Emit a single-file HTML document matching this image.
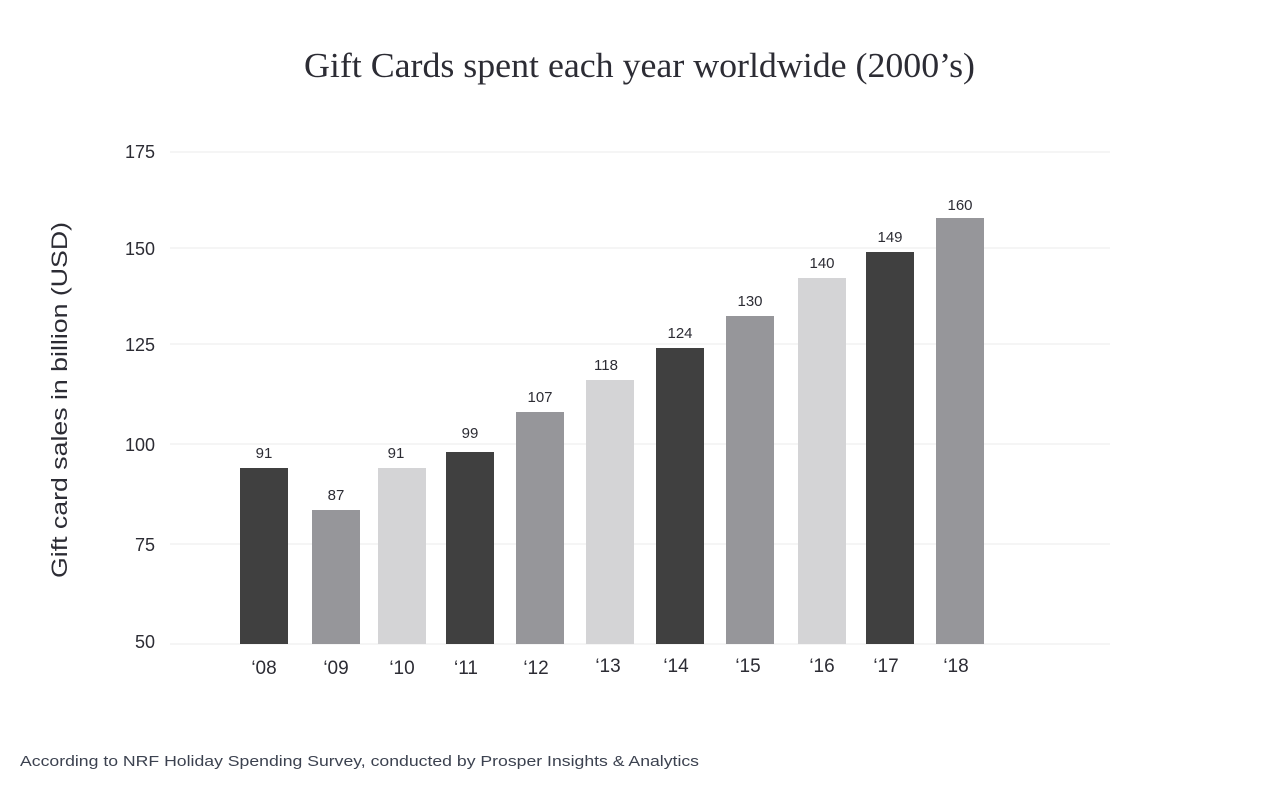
<!DOCTYPE html>
<html><head><meta charset="utf-8"><style>
body{margin:0;background:#fff;width:1280px;height:800px;overflow:hidden}
</style></head><body>
<svg width="1280" height="800" xmlns="http://www.w3.org/2000/svg" font-family="Liberation Sans, sans-serif">
<text x="304" y="77" textLength="671" lengthAdjust="spacingAndGlyphs" font-family="Liberation Serif, serif" font-size="35" fill="#2c2c34">Gift Cards spent each year worldwide (2000’s)</text>
<g stroke="#f5f5f5" stroke-width="2">
<line x1="170" x2="1110" y1="152" y2="152"/><line x1="170" x2="1110" y1="248" y2="248"/>
<line x1="170" x2="1110" y1="344" y2="344"/><line x1="170" x2="1110" y1="444" y2="444"/>
<line x1="170" x2="1110" y1="544" y2="544"/><line x1="170" x2="1110" y1="644" y2="644"/>
</g>
<g font-size="18" fill="#2c2c34" text-anchor="end">
<text x="155" y="158">175</text><text x="155" y="255">150</text><text x="155" y="351">125</text>
<text x="155" y="451">100</text><text x="155" y="551">75</text><text x="155" y="648">50</text>
</g>
<text transform="translate(67,578) rotate(-90)" textLength="356" lengthAdjust="spacingAndGlyphs" font-size="22" fill="#2c2c34">Gift card sales in billion (USD)</text>
<g>
<rect x="240" y="468" width="48" height="176" fill="#404040"/>
<rect x="312" y="510" width="48" height="134" fill="#96969a"/>
<rect x="378" y="468" width="48" height="176" fill="#d4d4d6"/>
<rect x="446" y="452" width="48" height="192" fill="#404040"/>
<rect x="516" y="412" width="48" height="232" fill="#96969a"/>
<rect x="586" y="380" width="48" height="264" fill="#d4d4d6"/>
<rect x="656" y="348" width="48" height="296" fill="#404040"/>
<rect x="726" y="316" width="48" height="328" fill="#96969a"/>
<rect x="798" y="278" width="48" height="366" fill="#d4d4d6"/>
<rect x="866" y="252" width="48" height="392" fill="#404040"/>
<rect x="936" y="218" width="48" height="426" fill="#96969a"/>
</g>
<g font-size="15" fill="#2c2c34" text-anchor="middle">
<text x="264" y="458">91</text><text x="336" y="500">87</text><text x="396" y="458">91</text>
<text x="470" y="438">99</text><text x="540" y="402">107</text><text x="606" y="370">118</text>
<text x="680" y="338">124</text><text x="750" y="306">130</text><text x="822" y="268">140</text>
<text x="890" y="242">149</text><text x="960" y="210">160</text>
</g>
<g font-size="19" fill="#2c2c34" text-anchor="middle">
<text x="264" y="674">‘08</text><text x="336" y="674">‘09</text><text x="402" y="674">‘10</text>
<text x="466" y="674">‘11</text><text x="536" y="674">‘12</text><text x="608" y="672">‘13</text>
<text x="676" y="672">‘14</text><text x="748" y="672">‘15</text><text x="822" y="672">‘16</text>
<text x="886" y="672">‘17</text><text x="956" y="672">‘18</text>
</g>
<text x="20" y="766" textLength="679" lengthAdjust="spacingAndGlyphs" font-size="15" fill="#3c4250">According to NRF Holiday Spending Survey, conducted by Prosper Insights &amp; Analytics</text>
</svg>
</body></html>
